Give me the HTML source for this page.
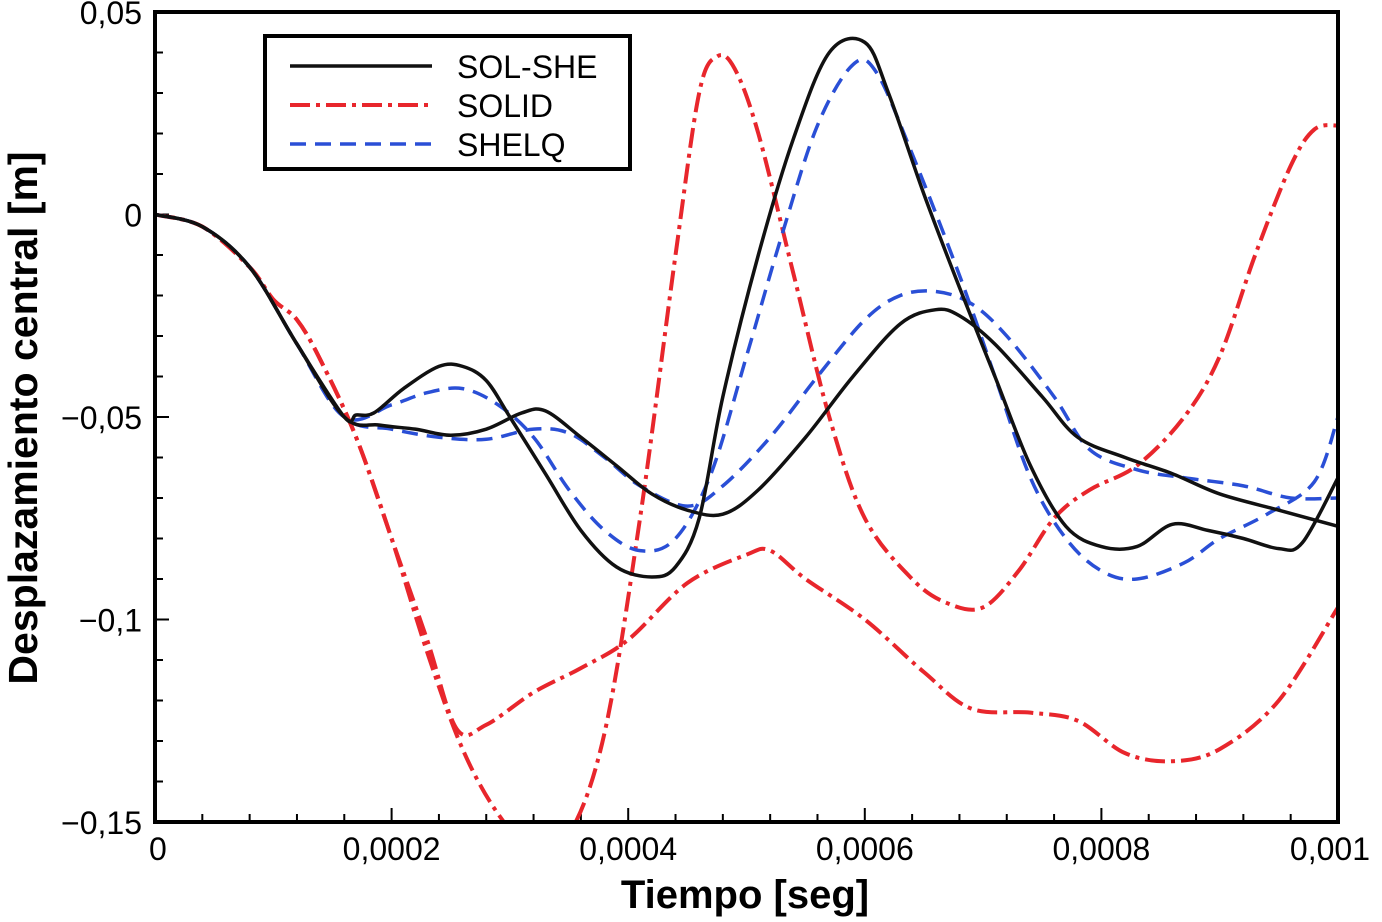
<!DOCTYPE html>
<html><head><meta charset="utf-8"><style>
body{margin:0;background:#fff;}
svg text{font-family:"Liberation Sans",Arial,sans-serif;}
</style></head><body>
<svg id="chart" width="1382" height="917" xmlns="http://www.w3.org/2000/svg"></svg>
<script>
const xTicks=[0,0.0002,0.0004,0.0006,0.0008,0.001];
const xTickLabels=["0","0,0002","0,0004","0,0006","0,0008","0,001"];
const yTicks=[0.05,0,-0.05,-0.1,-0.15];
const yTickLabels=["0,05","0","\u22120,05","\u22120,1","\u22120,15"];
const shared=[[0,0],[0.4,-0.003],[0.8,-0.013],[1.2,-0.032],[1.6,-0.05]];
const solSheA=[[1.7,-0.0495],[1.85,-0.049],[2.1,-0.043],[2.4,-0.0375],[2.6,-0.0375],[2.8,-0.041],[3.0,-0.05],[3.3,-0.064],[3.6,-0.078],[3.9,-0.087],[4.2,-0.0895],[4.4,-0.087],[4.6,-0.075],[4.8,-0.045],[5.1,-0.01],[5.4,0.019],[5.7,0.04],[6.0,0.0425],[6.2,0.03],[6.5,0.005],[6.8,-0.018],[7.1,-0.04],[7.4,-0.062],[7.7,-0.077],[8.0,-0.082],[8.3,-0.082],[8.6,-0.0765],[8.9,-0.078],[9.2,-0.08],[9.5,-0.0825],[9.7,-0.081],[10,-0.065]];
const solSheB=[[1.9,-0.052],[2.2,-0.053],[2.5,-0.0545],[2.8,-0.053],[3.1,-0.049],[3.3,-0.0485],[3.6,-0.055],[3.9,-0.062],[4.2,-0.069],[4.5,-0.073],[4.8,-0.074],[5.1,-0.068],[5.5,-0.055],[5.9,-0.04],[6.3,-0.027],[6.6,-0.0235],[6.8,-0.025],[7.1,-0.032],[7.5,-0.045],[7.8,-0.055],[8.2,-0.06],[8.6,-0.064],[9.0,-0.069],[9.5,-0.073],[10,-0.077]];
const shelqA=[[2.0,-0.047],[2.3,-0.044],[2.6,-0.043],[2.9,-0.047],[3.2,-0.055],[3.5,-0.068],[3.8,-0.078],[4.1,-0.083],[4.4,-0.08],[4.7,-0.064],[5.0,-0.035],[5.3,-0.005],[5.6,0.022],[5.9,0.037],[6.1,0.035],[6.4,0.015],[6.8,-0.015],[7.1,-0.04],[7.4,-0.065],[7.7,-0.08],[8.0,-0.088],[8.3,-0.09],[8.7,-0.086],[9.0,-0.08],[9.4,-0.074],[9.8,-0.066],[10,-0.05]];
const shelqB=[[2.0,-0.053],[2.4,-0.055],[2.8,-0.0555],[3.2,-0.053],[3.5,-0.054],[3.8,-0.06],[4.1,-0.067],[4.5,-0.072],[4.8,-0.067],[5.2,-0.055],[5.6,-0.04],[6.0,-0.026],[6.3,-0.02],[6.6,-0.019],[6.9,-0.022],[7.2,-0.03],[7.6,-0.045],[7.9,-0.058],[8.3,-0.063],[8.7,-0.065],[9.2,-0.067],[9.6,-0.07],[10,-0.07]];
const redStart=[[0,0],[0.4,-0.003],[0.8,-0.013],[1.0,-0.021],[1.2,-0.026],[1.4,-0.036],[1.7,-0.055]];
const solidA=[[2.0,-0.08],[2.3,-0.108],[2.6,-0.132],[2.9,-0.148],[3.2,-0.157],[3.5,-0.153],[3.8,-0.128],[4.1,-0.075],[4.4,-0.01],[4.6,0.03],[4.75,0.039],[4.9,0.036],[5.1,0.02],[5.4,-0.015],[5.7,-0.05],[6.0,-0.075],[6.4,-0.09],[6.7,-0.096],[7.0,-0.097],[7.3,-0.088],[7.6,-0.075],[7.9,-0.068],[8.3,-0.062],[8.7,-0.05],[9.0,-0.035],[9.3,-0.01],[9.6,0.012],[9.8,0.021],[10,0.022]];
const solidB=[[2.0,-0.08],[2.3,-0.105],[2.55,-0.127],[2.8,-0.126],[3.2,-0.118],[3.6,-0.112],[4.0,-0.105],[4.5,-0.091],[5.0,-0.084],[5.2,-0.083],[5.5,-0.09],[6.0,-0.1],[6.5,-0.113],[6.9,-0.122],[7.4,-0.123],[7.8,-0.125],[8.2,-0.133],[8.6,-0.135],[9.0,-0.132],[9.5,-0.12],[10,-0.097]];

const L=155,R=1338,T=12,B=822;
const X=v=>L+(v-0)/0.001*(R-L);
const Y=v=>T+(0.05-v)/0.2*(B-T);
const XE=v=>X(v*1e-4);
const NS="http://www.w3.org/2000/svg";
const svg=document.getElementById('chart');
function mk(t,a,p){const e=document.createElementNS(NS,t);for(const k in a)e.setAttribute(k,a[k]);(p||svg).appendChild(e);return e;}
const defs=mk('defs',{});
const cp=mk('clipPath',{id:'clip'},defs);mk('rect',{x:L,y:T,width:R-L,height:B-T},cp);

for(let i=0;i<=20;i++){const v=0.05-i*0.01;const t=mk('line',{x1:L,x2:L+(i%5==0?14:8),y1:Y(v),y2:Y(v),stroke:'#000','stroke-width':2});
}
for(let i=0;i<=25;i++){const v=i*0.00004;const t=mk('line',{x1:X(v),x2:X(v),y1:B,y2:B-(i%5==0?14:8),stroke:'#000','stroke-width':2});
}

function path(pts){const p=pts.map(d=>[XE(d[0]),Y(d[1])]);let s=`M${p[0][0]},${p[0][1]}`;
for(let i=0;i<p.length-1;i++){const p0=p[Math.max(0,i-1)],p1=p[i],p2=p[i+1],p3=p[Math.min(p.length-1,i+2)];
s+=` C${p1[0]+(p2[0]-p0[0])/6},${p1[1]+(p2[1]-p0[1])/6} ${p2[0]-(p3[0]-p1[0])/6},${p2[1]-(p3[1]-p1[1])/6} ${p2[0]},${p2[1]}`;}return s;}
const g=mk('g',{'clip-path':'url(#clip)'});
const red={stroke:'#e8262c','stroke-width':4,fill:'none','stroke-dasharray':'20 6 4 6'};
const blue={stroke:'#2a4fd6','stroke-width':3.5,fill:'none','stroke-dasharray':'16 9'};
const black={stroke:'#111','stroke-width':3.5,fill:'none'};
function line(pts,st,name){const e=mk('path',Object.assign({d:path(pts)},st),g);}
line(redStart.concat(solidA),red,'solid-line-a');
line(redStart.concat(solidB),red,'solid-line-b');
line(shared.concat(shelqA),blue,'shelq-line-a');
line(shared.concat(shelqB),blue,'shelq-line-b');
line(shared.concat(solSheA),black,'sol-she-line-a');
line(shared.concat(solSheB),black,'sol-she-line-b');

const fr=mk('rect',{x:L,y:T,width:R-L,height:B-T,fill:'none',stroke:'#000','stroke-width':4});


yTicks.forEach((v,i)=>{const t=mk('text',{x:142,y:Y(v)+12,'text-anchor':'end','font-size':32});t.textContent=yTickLabels[i];
});
xTicks.forEach((v,i)=>{const t=mk('text',{x:X(v),y:860,'text-anchor':i==0?'start':(i==5?'end':'middle'),'font-size':32});t.textContent=xTickLabels[i];
if(i==0)t.setAttribute('x',X(v)-6);if(i==5)t.setAttribute('x',X(v)+32);
});
const xt=mk('text',{x:745,y:908,'text-anchor':'middle','font-size':40,'font-weight':'bold'});xt.textContent='Tiempo [seg]';

const yt=mk('text',{x:0,y:0,'text-anchor':'middle','font-size':41,'font-weight':'bold',transform:`translate(37,418) rotate(-90)`});yt.textContent='Desplazamiento central [m]';


const lg=mk('g',{});
mk('rect',{x:265,y:36,width:365,height:133,fill:'#fff',stroke:'#000','stroke-width':4},lg);
[['SOL-SHE',black,66],['SOLID',red,105],['SHELQ',blue,144]].forEach(([n,st,y])=>{
const e=mk('line',Object.assign({x1:290,x2:432,y1:y,y2:y},st),lg);
const t=mk('text',{x:457,y:y+12,'font-size':32},lg);t.textContent=n;});
</script>
</body></html>
